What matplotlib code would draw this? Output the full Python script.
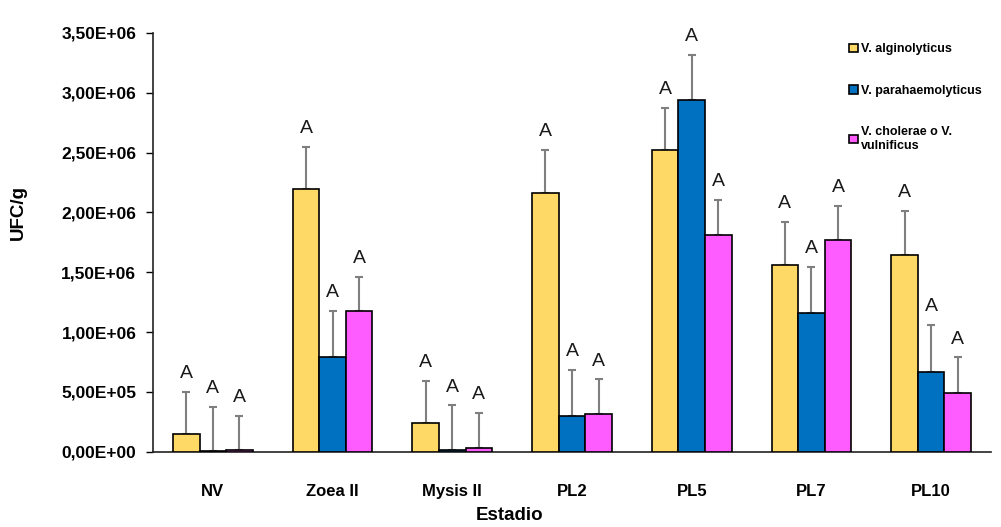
import matplotlib
matplotlib.use("Agg")
import matplotlib.pyplot as plt
import numpy as np

plt.rcParams['font.family'] = ['Liberation Sans', 'DejaVu Sans']

categories = ["NV", "Zoea II", "Mysis II", "PL2", "PL5", "PL7", "PL10"]
series_names = ["V. alginolyticus", "V. parahaemolyticus", "V. cholerae o V.\nvulnificus"]

alginolyticus = [0.148e6, 2.196e6, 0.237e6, 2.166e6, 2.522e6, 1.561e6, 1.647e6]
parahaemolyticus = [0.004e6, 0.789e6, 0.010e6, 0.301e6, 2.941e6, 1.157e6, 0.669e6]
cholerae = [0.010e6, 1.174e6, 0.033e6, 0.315e6, 1.812e6, 1.768e6, 0.488e6]

err_alginolyticus = [0.352e6, 0.352e6, 0.354e6, 0.356e6, 0.352e6, 0.357e6, 0.368e6]
err_parahaemolyticus = [0.372e6, 0.385e6, 0.378e6, 0.382e6, 0.378e6, 0.390e6, 0.390e6]
err_cholerae = [0.290e6, 0.289e6, 0.293e6, 0.290e6, 0.293e6, 0.286e6, 0.301e6]

letters = ["A"] * 7

colors = ["#FFD966", "#0070C0", "#FF5CFF"]

fig = plt.figure(figsize=(10.01, 5.27), dpi=100)
ax = fig.add_axes([0.1528, 0.1429, 0.8372, 0.7947])

x = np.arange(len(categories))
w = 0.222
vals = [alginolyticus, parahaemolyticus, cholerae]
errs = [err_alginolyticus, err_parahaemolyticus, err_cholerae]
for i, (v, e, c, name) in enumerate(zip(vals, errs, colors, series_names)):
    pos = x + (i - 1) * w
    ax.bar(pos, v, width=w, color=c, edgecolor="black", linewidth=1.2,
           label=name, zorder=3)
    ax.errorbar(pos, v, yerr=[np.zeros(len(v)), e], fmt="none",
                ecolor="#7f7f7f", elinewidth=1.5, capsize=3, capthick=1.5, zorder=2)
    for p, vv, ee, t in zip(pos, v, e, letters):
        ax.annotate(t, (p, vv + ee), xytext=(0, 7), textcoords="offset points",
                    ha="center", va="bottom", fontsize=14, color="#1a1a1a")

ax.set_xlim(-0.5, len(categories) - 0.5)
ax.set_ylim(0, 3.5e6)
yt = np.arange(0, 3.51e6, 0.5e6)
ax.set_yticks(yt)
ax.set_yticklabels([f"{t:.2E}".replace(".", ",") for t in yt],
                   fontsize=12.5, fontweight="bold")
ax.set_xticks(x)
ax.set_xticklabels(categories, fontsize=12, fontweight="bold")
ax.tick_params(axis="x", length=0, pad=23.5)
ax.tick_params(axis="y", length=5, width=1, direction="out", pad=7)
for s in ["top", "right"]:
    ax.spines[s].set_visible(False)
for s in ["left", "bottom"]:
    ax.spines[s].set_linewidth(1.2)
    ax.spines[s].set_color("#222222")

fig.text(18 / 1001, 1 - 212 / 527, "UFC/g", rotation=90, ha="center", va="center",
         fontsize=13.5, fontweight="bold")
fig.text(510 / 1001, 1 - 516 / 527, "Estadio", ha="center", va="center",
         fontsize=13.5, fontweight="bold")

leg = ax.legend(loc="upper left", bbox_to_anchor=(0.825, 0.987), frameon=False,
                fontsize=9, handlelength=0.7, handleheight=0.7, handletextpad=0.2,
                labelspacing=2.35, borderaxespad=0)
for t in leg.get_texts():
    t.set_fontweight("bold")

fig.savefig("out.png", dpi=100)
